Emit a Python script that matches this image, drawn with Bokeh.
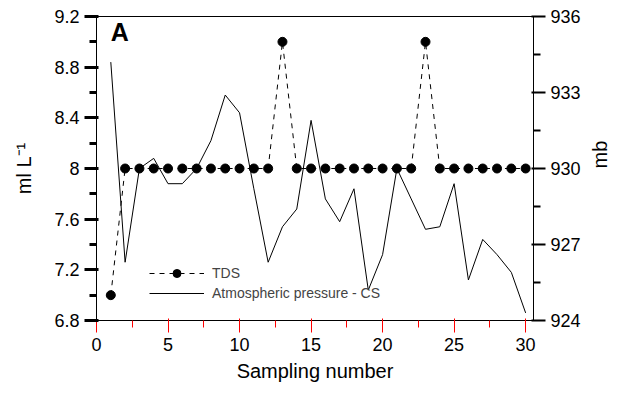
import math
from bokeh.plotting import figure
from bokeh.models import (Range1d, LinearAxis, FixedTicker, Legend, LegendItem, Label)
from bokeh.embed import file_html
from bokeh.resources import INLINE

# ---- data ----
sampling = list(range(1, 31))
tds = [7.0, 8, 8, 8, 8, 8, 8, 8, 8, 8, 8, 8, 9.0, 8, 8, 8, 8, 8, 8, 8, 8, 8, 9.0, 8, 8, 8, 8, 8, 8, 8]
pressure = [934.2, 926.3, 930.0, 930.4, 929.4, 929.4, 930.0, 931.1, 932.9, 932.2,
            929.2, 926.3, 927.7, 928.4, 931.9, 928.8, 927.9, 929.2, 925.2, 926.6,
            930.0, 928.8, 927.6, 927.7, 929.4, 925.6, 927.2, 926.6, 925.9, 924.3]
left_ticks = [6.8, 7.2, 7.6, 8.0, 8.4, 8.8, 9.2]
left_labels = ["6.8", "7.2", "7.6", "8", "8.4", "8.8", "9.2"]
right_ticks = [924, 927, 930, 933, 936]
x_ticks = [0, 5, 10, 15, 20, 25, 30]

FONT = "Liberation Sans"

p = figure(width=624, height=384, output_backend="svg", toolbar_location=None,
           x_range=Range1d(0, 30.55), y_range=Range1d(6.8, 9.2),
           min_border_left=96, min_border_right=66, min_border_top=16, min_border_bottom=60)
p.extra_y_ranges = {"mb": Range1d(924, 936)}
p.xgrid.visible = False
p.ygrid.visible = False
p.outline_line_color = "black"

# TDS
tds_line = p.line(sampling, tds, line_color="black", line_width=1, line_dash="5 5")
tds_pts = p.scatter(sampling, tds, size=9, fill_color="black", line_color="black")
# pressure
pr_line = p.line(sampling, pressure, line_color="black", line_width=1, y_range_name="mb")

def style_axis(ax, color, width):
    if color is not None:
        ax.major_tick_line_color = color
        ax.minor_tick_line_color = color
    ax.major_tick_line_width = width
    ax.minor_tick_line_width = width
    ax.major_tick_out = 12
    ax.minor_tick_out = 7
    ax.major_label_text_font = FONT
    ax.major_label_text_font_size = "18px"
    ax.major_label_text_color = "black"
    ax.axis_label_text_font = FONT
    ax.axis_label_text_font_size = "20px"
    ax.axis_label_text_font_style = "normal"
    ax.axis_label_text_color = "black"
    ax.major_label_standoff = 5

xa = p.xaxis[0]
style_axis(xa, "red", 1)
xa.ticker = FixedTicker(ticks=x_ticks, minor_ticks=[2.5 + 5 * i for i in range(6)])
xa.axis_label = "Sampling number"
xa.axis_label_standoff = 6

ya = p.yaxis[0]
style_axis(ya, "black", 3)
ya.ticker = FixedTicker(ticks=left_ticks, minor_ticks=[7.0, 7.4, 7.8, 8.2, 8.6, 9.0])
ya.major_label_overrides = {t: l for t, l in zip(left_ticks, left_labels)}
ya.axis_label = "ml L\u207b\u00b9"
ya.axis_label_standoff = 16

ra = LinearAxis(y_range_name="mb")
style_axis(ra, None, 2)
ra.ticker = FixedTicker(ticks=right_ticks, minor_ticks=[925.5, 928.5, 931.5, 934.5])
ra.axis_label = "mb"
ra.axis_label_standoff = 16
ra.axis_label_orientation = math.pi / 2
p.add_layout(ra, "right")

p.add_layout(Label(x=1.0, y=8.97, text="A", text_font=FONT, text_font_size="25px",
                   text_font_style="bold", text_align="left", text_baseline="bottom",
                   text_color="black"))

legend = Legend(items=[LegendItem(label="TDS", renderers=[tds_line, tds_pts]),
                       LegendItem(label="Atmospheric pressure - CS", renderers=[pr_line])],
                location=(53, 17), glyph_width=55, glyph_height=20, label_height=20,
                spacing=0, padding=0, margin=0, label_standoff=8,
                label_text_font=FONT, label_text_font_size="14px",
                border_line_alpha=0, background_fill_alpha=0)
p.add_layout(legend, "center")

open("out.html", "w").write(file_html(p, INLINE))
